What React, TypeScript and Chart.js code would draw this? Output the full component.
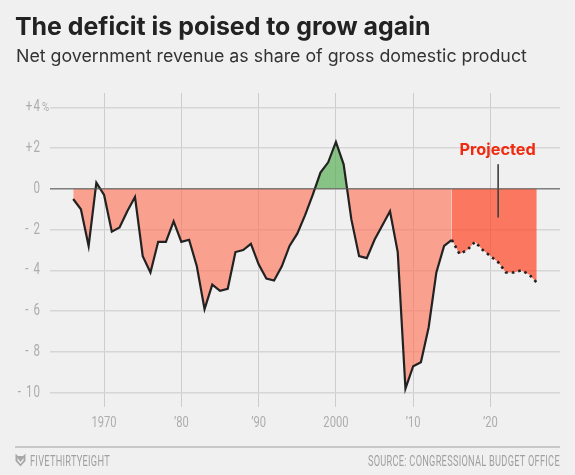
import { useEffect, useRef } from "react";
import { Chart, registerables } from "chart.js";

Chart.register(...registerables);

const actualYears = [
  1966, 1967, 1968, 1969, 1970, 1971, 1972, 1973, 1974, 1975, 1976, 1977, 1978,
  1979, 1980, 1981, 1982, 1983, 1984, 1985, 1986, 1987, 1988, 1989, 1990, 1991,
  1992, 1993, 1994, 1995, 1996, 1997, 1998, 1999, 2000, 2001, 2002, 2003, 2004,
  2005, 2006, 2007, 2008, 2009, 2010, 2011, 2012, 2013, 2014, 2015,
];
const actualValues = [
  -0.5, -1.0, -2.8, 0.3, -0.3, -2.1, -1.9, -1.1, -0.4, -3.3, -4.1, -2.6, -2.6,
  -1.6, -2.6, -2.5, -3.8, -5.9, -4.7, -5.0, -4.9, -3.1, -3.0, -2.7, -3.7, -4.4,
  -4.5, -3.8, -2.8, -2.2, -1.3, -0.3, 0.8, 1.3, 2.3, 1.2, -1.5, -3.3, -3.4,
  -2.5, -1.8, -1.1, -3.1, -9.8, -8.7, -8.5, -6.8, -4.1, -2.8, -2.5,
];
const projectedYears = [
  2015, 2016, 2017, 2018, 2019, 2020, 2021, 2022, 2023, 2024, 2025, 2026,
];
const projectedValues = [
  -2.5, -3.2, -3.0, -2.6, -3.0, -3.3, -3.6, -4.1, -4.1, -4.0, -4.2, -4.6,
];
const xTickLabels: Record<number, string> = {
  1970: "1970",
  1980: "’80",
  1990: "’90",
  2000: "2000",
  2010: "’10",
  2020: "’20",
};
const zeroLineYears = [1963, 2029];
const calloutYear = 2021;
const calloutValues = [1.2, -1.4];

const tickFont = '"Roboto", sans-serif';
const tickColor = "#acacac";
const squeeze = 0.72; // no condensed font here, so tick text gets squeezed

const toPoints = (xs: number[], ys: number[]) =>
  xs.map((x, i) => ({ x, y: ys[i] }));

const drawSqueezed = (
  ctx: CanvasRenderingContext2D,
  text: string,
  x: number,
  y: number,
  align: CanvasTextAlign
) => {
  ctx.save();
  ctx.translate(x, y);
  ctx.scale(squeeze, 1);
  ctx.textAlign = align;
  ctx.textBaseline = "middle";
  ctx.fillText(text, 0, 0);
  ctx.restore();
};

// condensed tick labels, the "%" after +4 and the red label
const extras = {
  id: "extras",
  afterDraw(chart: Chart) {
    const { ctx, scales } = chart;
    ctx.save();
    ctx.fillStyle = tickColor;
    ctx.font = `400 15.5px ${tickFont}`;
    scales.x.ticks.forEach((tick) => {
      drawSqueezed(
        ctx,
        String(tick.label ?? ""),
        scales.x.getPixelForValue(tick.value),
        423,
        "center"
      );
    });
    ctx.font = `400 16px ${tickFont}`;
    (ctx as any).letterSpacing = "1.5px";
    scales.y.ticks.forEach((tick) => {
      drawSqueezed(
        ctx,
        String(tick.label ?? ""),
        41,
        scales.y.getPixelForValue(tick.value),
        "right"
      );
    });
    (ctx as any).letterSpacing = "0px";
    ctx.font = `400 13.5px ${tickFont}`;
    drawSqueezed(ctx, "%", 42, scales.y.getPixelForValue(4), "left");
    ctx.font = '700 16.3px "Inter", sans-serif';
    ctx.fillStyle = "#f0290f";
    ctx.textAlign = "center";
    ctx.textBaseline = "middle";
    ctx.fillText(
      "Projected",
      scales.x.getPixelForValue(calloutYear) - 0.5,
      scales.y.getPixelForValue(1.88)
    );
    ctx.restore();
  },
};

const App = () => {
  const canvasRef = useRef<HTMLCanvasElement | null>(null);

  useEffect(() => {
    if (!canvasRef.current) return;
    const chart = new Chart(canvasRef.current, {
      type: "line",
      data: {
        datasets: [
          {
            data: toPoints(zeroLineYears, [0, 0]),
            borderColor: "#555555",
            borderWidth: 1,
            pointRadius: 0,
            order: 1,
          },
          {
            data: toPoints([calloutYear, calloutYear], calloutValues),
            borderColor: "#444444",
            borderWidth: 1,
            pointRadius: 0,
            order: 1,
          },
          {
            data: toPoints(actualYears, actualValues),
            borderColor: "#222222",
            borderWidth: 2.2,
            borderJoinStyle: "miter",
            pointRadius: 0,
            fill: {
              target: "origin",
              above: "rgba(90, 175, 85, 0.7)",
              below: "rgba(255, 107, 78, 0.6)",
            },
            order: 2,
          },
          {
            data: toPoints(projectedYears, projectedValues),
            borderColor: "#222222",
            borderWidth: 2.6,
            borderDash: [2.6, 4],
            pointRadius: 0,
            fill: {
              target: "origin",
              below: "rgba(255, 67, 34, 0.7)",
            },
            order: 2,
          },
        ],
      },
      options: {
        responsive: false,
        animation: false,
        layout: { padding: { top: 93, right: 15, left: 0, bottom: 0 } },
        plugins: { legend: { display: false }, tooltip: { enabled: false } },
        scales: {
          x: {
            type: "linear",
            min: 1963,
            max: 2029,
            afterFit: (scale) => {
              scale.height = 68;
            },
            border: { display: false },
            grid: { color: "#cdcdcd", lineWidth: 1, drawTicks: false },
            ticks: {
              display: false,
              stepSize: 10,
              includeBounds: false,
              callback: (value) => xTickLabels[Number(value)] ?? "",
            },
          },
          y: {
            type: "linear",
            min: -10.7,
            max: 4.7,
            afterFit: (scale) => {
              scale.width = 50;
            },
            border: { display: false },
            grid: { color: "#d6d6d6", lineWidth: 1.5, drawTicks: false },
            ticks: {
              display: false,
              stepSize: 2,
              includeBounds: false,
              callback: (value) => {
                const v = Number(value);
                if (v === 0) return "0";
                return v > 0 ? `+${v}` : `- ${Math.abs(v)}`;
              },
            },
          },
        },
      },
      plugins: [extras],
    });
    return () => chart.destroy();
  }, []);

  return (
    <div
      style={{
        position: "fixed",
        left: 0,
        top: 0,
        width: 575,
        height: 475,
        background: "#f0f0f0",
        overflow: "hidden",
      }}
    >
      <canvas
        ref={canvasRef}
        width={575}
        height={475}
        style={{ position: "absolute", left: 0, top: 0 }}
      />
      <div
        style={{
          position: "absolute",
          left: 15,
          top: 11,
          font: '700 24.9px/30px "Inter", sans-serif',
          color: "#222222",
          whiteSpace: "nowrap",
        }}
      >
        The deficit is poised to grow again
      </div>
      <div
        style={{
          position: "absolute",
          left: 16,
          top: 44,
          font: '400 17.8px/24px "Inter", sans-serif',
          color: "#333333",
          whiteSpace: "nowrap",
        }}
      >
        Net government revenue as share of gross domestic product
      </div>
      <div
        style={{
          position: "absolute",
          left: 15,
          top: 446,
          width: 545,
          height: 2,
          background: "#c8c8c8",
        }}
      />
      <svg
        width="11"
        height="14"
        viewBox="0 0 11 14"
        style={{ position: "absolute", left: 15, top: 453 }}
      >
        <path
          d="M0.5 0.5 L3 3 L8 3 L10.5 0.5 L10.5 8 L5.5 13.5 L0.5 8 Z M2.5 5 L5.5 9 L8.5 5 L8.5 7.5 L5.5 11 L2.5 7.5 Z"
          fill="#a8a8a8"
          fillRule="evenodd"
        />
      </svg>
      <div
        style={{
          position: "absolute",
          left: 30,
          top: 453,
          font: `400 14px/16px ${tickFont}`,
          letterSpacing: 0.4,
          color: "#a0a0a0",
          whiteSpace: "nowrap",
          transform: "scaleX(0.66)",
          transformOrigin: "left center",
        }}
      >
        FIVETHIRTYEIGHT
      </div>
      <div
        style={{
          position: "absolute",
          right: 15,
          top: 453,
          font: `400 14px/16px ${tickFont}`,
          letterSpacing: 0.4,
          color: "#a0a0a0",
          whiteSpace: "nowrap",
          transform: "scaleX(0.66)",
          transformOrigin: "right center",
        }}
      >
        SOURCE: CONGRESSIONAL BUDGET OFFICE
      </div>
    </div>
  );
};

export default App;
